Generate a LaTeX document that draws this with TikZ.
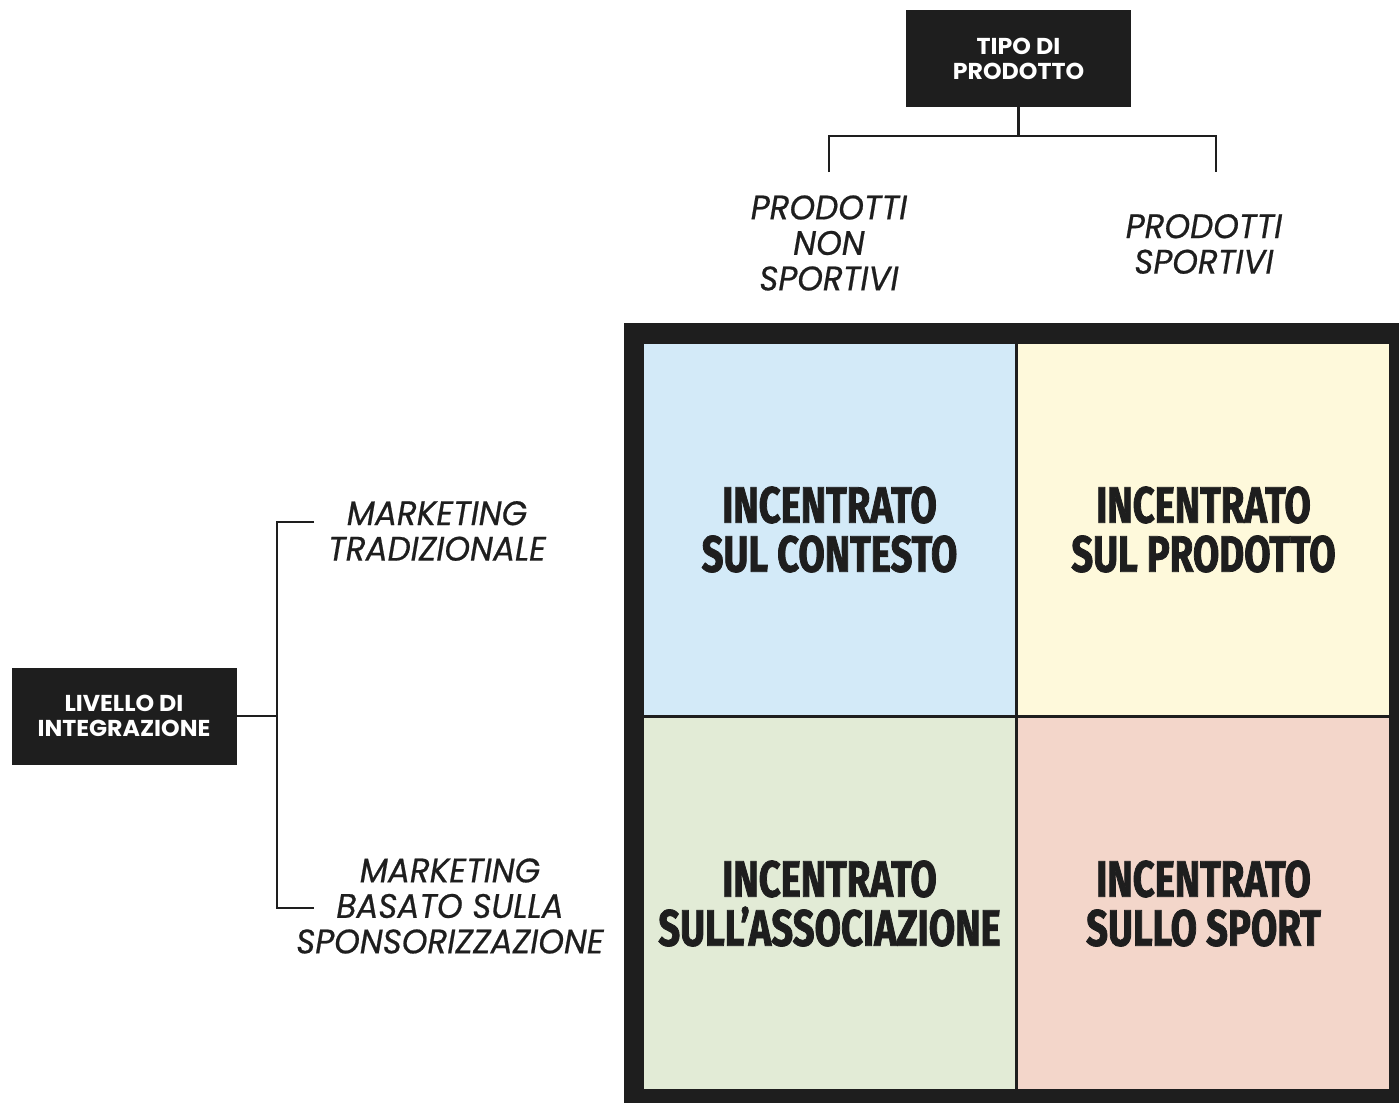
\documentclass[tikz,border=0pt]{standalone}
\usepackage{fontspec}
\setmainfont{Poppins}[FakeStretch=1.03]
\newfontfamily\labelfont{Poppins}[FakeStretch=0.96, FakeBold=0.6]
\newfontfamily\heavyfont{Fira Sans}[FakeStretch=0.75, FakeBold=1.5]
\usepackage{tikz}

\definecolor{ink}{HTML}{1E1E1E}
\definecolor{cellblue}{HTML}{D3EAF8}
\definecolor{cellyellow}{HTML}{FEF9DB}
\definecolor{cellgreen}{HTML}{E2EBD6}
\definecolor{cellpink}{HTML}{F3D6CA}

\begin{document}
\begin{tikzpicture}[x=0.5pt, y=-0.5pt,
    darkbox/.style={fill=ink, text=white, inner sep=0pt, align=center,
        minimum width=112.5pt, minimum height=48.5pt,
        font=\bfseries\fontsize{11.5}{12.5}\selectfont},
    axislabel/.style={text=ink, align=center,
        font=\labelfont\itshape\fontsize{17}{17.75}\selectfont},
    cell/.style={draw=ink, line width=1pt, fill=#1, inner sep=0pt,
        minimum width=186.5pt, minimum height=186.5pt, text=ink, align=center,
        font=\heavyfont\bfseries\fontsize{25.5}{24.5}\selectfont},
    conn/.style={draw=ink, line width=1.2pt}]

    %% Background
    \useasboundingbox (0,0) rectangle (1399,1103);

    %% Headings
    \node[darkbox] (tipo) at (1018.5,58.5) {TIPO DI\\PRODOTTO};
    \node[darkbox] (livello) at (124,716) {LIVELLO DI\\INTEGRAZIONE};

    \node[axislabel] (nonsport) at (829,243) {PRODOTTI\\NON\\SPORTIVI};
    \node[axislabel] (sport) at (1204,244) {PRODOTTI\\SPORTIVI};
    \node[axislabel] (tradiz) at (437,531) {MARKETING\\TRADIZIONALE};
    \node[axislabel] (sponsor) at (450,906) {MARKETING\\BASATO SULLA\\SPONSORIZZAZIONE};

    %% Brackets
    \coordinate (topfork) at (tipo.south |- 0,136);
    \coordinate (nonsport tip) at (829,172);
    \coordinate (sport tip) at (1216,172);
    \draw[conn] (tipo.south) -- (topfork);
    \draw[conn] (nonsport tip) |- (topfork) -| (sport tip);

    \coordinate (leftfork) at (277,716);
    \coordinate (tradiz tip) at (314,522);
    \coordinate (sponsor tip) at (314,908);
    \draw[conn] (livello.east) -- (leftfork);
    \draw[conn] (tradiz tip) -| (leftfork) |- (sponsor tip);

    %% Matrix
    \fill[ink] (624,323) rectangle (1399,1103);

    \node[cell=cellblue] (contesto) at (829.5,529.5) {INCENTRATO\\SUL CONTESTO};
    \node[cell=cellyellow] (prodotto) at (1203.5,529.5) {INCENTRATO\\SUL PRODOTTO};
    \node[cell=cellgreen] (associazione) at (829.5,903.5) {INCENTRATO\\SULL’ASSOCIAZIONE};
    \node[cell=cellpink] (sportq) at (1203.5,903.5) {INCENTRATO\\SULLO SPORT};

\end{tikzpicture}
\end{document}
